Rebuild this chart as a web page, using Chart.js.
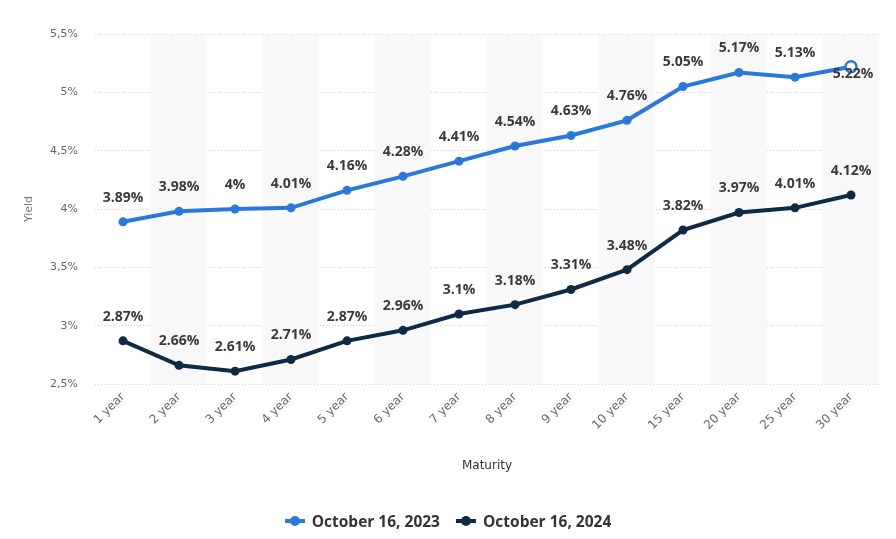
<!DOCTYPE html>
<html>
<head>
<meta charset="utf-8">
<script src="https://cdn.jsdelivr.net/npm/chart.js@4"></script>
<style>
  html, body { margin: 0; padding: 0; background: #fff; }
  #wrap { position: relative; width: 896px; height: 539px; }
  canvas { display: block; }
  #legend { position: absolute; left: 0; width: 896px; top: 506px; text-align: center;
    font-family: "Open Sans", sans-serif; font-weight: bold; font-size: 15.5px; color: #333; line-height: 22px; }
  .item { display: inline-flex; align-items: center; margin: 0 8px; }
  .mk { position: relative; display: inline-block; width: 20px; height: 4px; margin-right: 7px; }
  .mk::after { content: ""; position: absolute; left: 5px; top: -3px; width: 10px; height: 10px; border-radius: 50%; background: inherit; }
</style>
</head>
<body>
<div id="wrap">
  <canvas id="c" width="896" height="539"></canvas>
  <div id="legend"></div>
</div>
<script>
const categories = ["1 year","2 year","3 year","4 year","5 year","6 year","7 year","8 year","9 year","10 year","15 year","20 year","25 year","30 year"];
const yield2023 = [3.89,3.98,4.00,4.01,4.16,4.28,4.41,4.54,4.63,4.76,5.05,5.17,5.13,5.22];
const yield2024 = [2.87,2.66,2.61,2.71,2.87,2.96,3.10,3.18,3.31,3.48,3.82,3.97,4.01,4.12];
const seriesNames = ["October 16, 2023","October 16, 2024"];
const seriesColors = ["#2a78dd","#0e2a45"];

const FONT = '"DejaVu Sans", sans-serif';
const LFONT = '"Open Sans", sans-serif';

const bandPlugin = {
  id: 'bands',
  beforeDatasetsDraw(chart) {
    const {ctx, chartArea, scales} = chart;
    const x = scales.x;
    const w = x.getPixelForValue(1) - x.getPixelForValue(0);
    ctx.save();
    ctx.fillStyle = '#f8f8f8';
    for (let i = 1; i < categories.length; i += 2) {
      const cx = x.getPixelForValue(i);
      ctx.fillRect(cx - w / 2, chartArea.top + 1, w, chartArea.bottom - chartArea.top - 1);
    }
    ctx.restore();
  }
};

const labelPlugin = {
  id: 'vlabels',
  afterDatasetsDraw(chart) {
    const {ctx} = chart;
    ctx.save();
    ctx.font = 'bold 14px ' + LFONT;
    ctx.fillStyle = '#3a3a3a';
    ctx.textAlign = 'center';
    ctx.textBaseline = 'middle';
    chart.data.datasets.forEach((ds, di) => {
      const meta = chart.getDatasetMeta(di);
      meta.data.forEach((pt, i) => {
        const v = ds.data[i];
        const txt = (Math.round(v * 100) / 100).toString() + '%';
        let x = pt.x, y = pt.y - 24;
        if (di === 0 && i === ds.data.length - 1) { x = pt.x + 2; y = pt.y + 7; }
        ctx.fillText(txt, x, y);
      });
    });
    ctx.restore();
  }
};

const lastIdx = categories.length - 1;

new Chart(document.getElementById('c'), {
  type: 'line',
  data: {
    labels: categories,
    datasets: [
      {
        label: seriesNames[0], data: yield2023,
        borderColor: seriesColors[0], backgroundColor: seriesColors[0],
        borderWidth: 4,
        pointRadius: categories.map((_, i) => i === lastIdx ? 5.5 : 4.5),
        pointBackgroundColor: categories.map((_, i) => i === lastIdx ? '#ffffff' : seriesColors[0]),
        pointBorderColor: seriesColors[0],
        pointBorderWidth: categories.map((_, i) => i === lastIdx ? 2.5 : 0),
        tension: 0
      },
      {
        label: seriesNames[1], data: yield2024,
        borderColor: seriesColors[1], backgroundColor: seriesColors[1],
        borderWidth: 4, pointRadius: 4.5, pointBorderWidth: 0,
        pointBackgroundColor: seriesColors[1], tension: 0
      }
    ]
  },
  options: {
    responsive: false,
    animation: false,
    events: [],
    layout: { padding: { top: 34, right: 17, bottom: 66, left: 0 } },
    plugins: { legend: { display: false }, tooltip: { enabled: false } },
    scales: {
      x: {
        offset: true,
        grid: { display: false, drawTicks: false, offset: true },
        border: { display: false },
        ticks: { color: '#666', font: { family: FONT, size: 12 }, minRotation: 45, maxRotation: 45, padding: 6, autoSkip: false },
        title: { display: true, text: 'Maturity', color: '#333', font: { family: FONT, size: 12 }, padding: 0 },
        afterFit(s) { s.height = 89; }
      },
      y: {
        min: 2.5, max: 5.5,
        grid: { color: '#cfcfcf', lineWidth: 1, drawTicks: false },
        border: { display: false, dash: [1, 2] },
        ticks: { stepSize: 0.5, color: '#666', font: { family: FONT, size: 11 }, padding: 17,
          callback: v => v.toString().replace('.', ',') + '%' },
        title: { display: true, text: 'Yield', color: '#777', font: { family: FONT, size: 11 }, padding: { top: 23, bottom: 0 } },
        afterFit(s) { s.width = 95; }
      }
    }
  },
  plugins: [bandPlugin, labelPlugin]
});

const lg = document.getElementById('legend');
seriesNames.forEach((n, i) => {
  const it = document.createElement('span'); it.className = 'item';
  const mk = document.createElement('span'); mk.className = 'mk'; mk.style.background = seriesColors[i];
  it.appendChild(mk); it.appendChild(document.createTextNode(n));
  lg.appendChild(it);
});
</script>
</body>
</html>
